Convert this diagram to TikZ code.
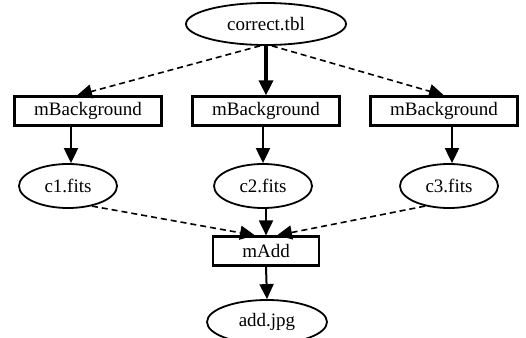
\documentclass[tikz,border=0pt]{standalone}
\usepackage{fontspec}
\setmainfont{Liberation Serif}
\usetikzlibrary{shapes.geometric,arrows.meta}
\begin{document}
\begin{tikzpicture}[x=1pt, y=-1pt, >={Triangle[length=15pt,width=14pt]},
    file/.style={draw, ellipse, line width=1.8pt, minimum width=98pt, minimum height=44pt, inner sep=0pt, font=\fontsize{19}{22}\selectfont},
    job/.style={draw, rectangle, line width=2.2pt, minimum width=147pt, minimum height=29pt, inner sep=0pt, font=\fontsize{19}{22}\selectfont},
    flow/.style={->, line width=2pt},
    dep/.style={->, line width=1.6pt, dash pattern=on 6pt off 4pt}]
    \useasboundingbox (0,0) rectangle (526,337);

    % 1. input table
    \node[file, minimum width=160pt, minimum height=42pt] (tbl) at (266,24) {correct.tbl};

    % 2. background jobs and their images
    \node[job] (bg1) at (88,111) {mBackground};
    \node[job] (bg2) at (266,111) {mBackground};
    \node[job] (bg3) at (444,111) {mBackground};
    \node[file] (c1) at (68,186) {c1.fits};
    \node[file] (c2) at (263,186) {c2.fits};
    \node[file] (c3) at (449,186) {c3.fits};

    % 3. co-add and output
    \node[job, minimum width=106pt] (add) at (266,251) {mAdd};
    \node[file, minimum width=120pt] (jpg) at (267,322) {add.jpg};

    % 4. edges from the table
    \draw[dep] (tbl.-105) -- ([xshift=-11pt]bg1.north);
    \draw[flow, line width=3.4pt] (tbl.south) -- (bg2.north);
    \draw[dep] (tbl.-75) -- (bg3.north);

    % 5. jobs to images
    \draw[flow] ([xshift=-17pt]bg1.south) -- ([xshift=3pt]c1.north);
    \draw[flow] ([xshift=-3pt]bg2.south) -- (c2.north);
    \draw[flow] ([xshift=8pt]bg3.south) -- ([xshift=3pt]c3.north);

    % 6. images into mAdd
    \draw[dep] (c1.-40) -- ([xshift=-11pt]add.north);
    \draw[flow] ([xshift=3pt]c2.south) -- (add.north);
    \draw[dep] (c3.-140) -- ([xshift=11pt]add.north);
    \draw[flow] (add.south) -- (jpg.north);
\end{tikzpicture}
\end{document}
